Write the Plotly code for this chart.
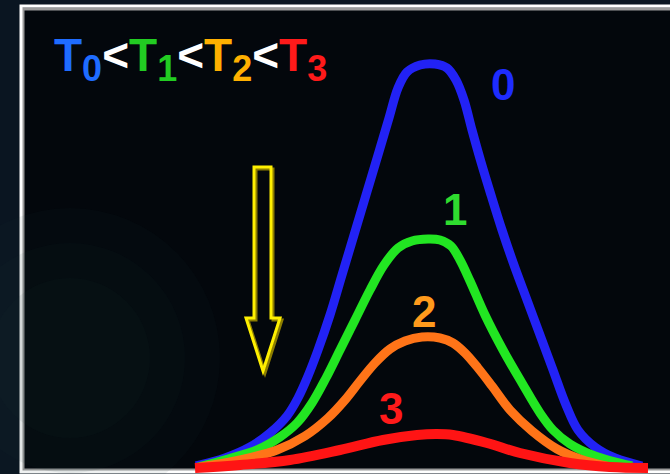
import plotly.graph_objects as go

# peak profiles at four temperatures (x position, height above baseline)
blue_x = [196, 225, 250, 270, 287, 298, 308, 318, 330, 342, 354, 366, 378, 389, 398, 407,
          420, 435, 447, 456, 464, 472, 481, 491, 502, 514, 527, 540, 553, 566, 578, 595,
          615, 642]
blue_y = [2, 10, 21, 35, 52, 70, 92, 118, 153, 193, 233, 273, 313, 350, 380, 396,
          403, 404, 400, 388, 368, 338, 306, 273, 238, 203, 168, 133, 98, 63, 38, 21,
          10, 2]

green_x = [198, 228, 257, 280, 297, 312, 326, 340, 355, 370, 384, 398, 412, 428, 440, 451,
           460, 470, 485, 503, 522, 540, 553, 570, 595, 632]
green_y = [1, 9, 18, 31, 45, 65, 90, 118, 148, 178, 203, 220, 227, 229, 228, 222,
           208, 187, 153, 118, 85, 55, 38, 24, 12, 2]

orange_x = [200, 240, 277, 305, 328, 345, 360, 375, 390, 405, 422, 440, 453, 465, 478, 492,
            510, 532, 557, 580, 610]
orange_y = [1, 8, 18, 32, 50, 68, 87, 105, 119, 127, 131, 130, 125, 115, 100, 82,
            58, 37, 19, 9, 1]

red_x = [195, 240, 290, 340, 383, 417, 437, 453, 487, 520, 570, 610, 648]
red_y = [0, 3, 8, 18, 28, 33, 34, 33, 25, 15, 5, 1, 0]

names = ["0", "1", "2", "3"]
colors = ["#2222f5", "#22e622", "#ff7418", "#ff1414"]
label_colors = ["#1e2cff", "#2fdc2f", "#ff9a1c", "#ff1a1a"]
label_pos = [(503, 384), (455, 259), (424, 157), (391, 60)]

fig = go.Figure()
for xs, ys, c, n in zip([blue_x, green_x, orange_x, red_x],
                        [blue_y, green_y, orange_y, red_y], colors, names):
    fig.add_trace(go.Scatter(x=xs, y=ys, mode="lines", name=n,
                             line=dict(color=c, width=10 if n == "3" else 9,
                                       shape="spline", smoothing=1.0)))

for n, c, (lx, ly) in zip(names, label_colors, label_pos):
    fig.add_annotation(x=lx, y=ly, text=f"<b>{n}</b>", showarrow=False,
                       font=dict(family="Liberation Sans", size=44, color=c))


def sub(d):
    return f'<sub><span style="font-size:36px">{d}</span></sub>'


title = ('<b><span style="color:#1f6cff">T' + sub(0) + '</span>'
         '<span style="color:#ffffff">&lt;</span>'
         '<span style="color:#22cc22">T' + sub(1) + '</span>'
         '<span style="color:#ffffff">&lt;</span>'
         '<span style="color:#ffb000">T' + sub(2) + '</span>'
         '<span style="color:#ffffff">&lt;</span>'
         '<span style="color:#ff1a1a">T' + sub(3) + '</span></b>')
fig.add_annotation(x=52, y=409, text=title, showarrow=False, xanchor="left",
                   yanchor="middle", font=dict(family="Liberation Sans", size=46))

# frame and interior
fig.add_shape(type="rect", xref="paper", yref="paper", x0=23 / 670, x1=1.05,
              y0=1 - 470 / 474, y1=1 - 9 / 474, fillcolor="#03070c",
              line=dict(color="#9a9a9a", width=3), layer="below")
# faint glow at lower left
for r in [150, 115, 80]:
    fig.add_shape(type="circle", xref="x", yref="y", x0=70 - r, x1=70 + r,
                  y0=110 - r, y1=110 + r, fillcolor="#1a3a3a", opacity=0.07,
                  line_width=0, layer="below")
fig.add_shape(type="rect", xref="paper", yref="paper", x0=21 / 670, x1=1.05,
              y0=1 - 472 / 474, y1=1 - 6 / 474,
              line=dict(color="#ffffff", width=3), layer="below")

# hollow arrow pointing down
arrow = "M 254,301 L 271,301 L 271,150 L 280,150 L 263,97 L 246,150 L 254,150 Z"
shadow = "M 256,299 L 273,299 L 273,148 L 282,148 L 265,95 L 248,148 L 256,148 Z"
fig.add_shape(type="path", path=shadow, line=dict(color="#8c7d00", width=3))
fig.add_shape(type="path", path=arrow, line=dict(color="#fff000", width=3))

fig.update_layout(
    width=670, height=474,
    margin=dict(l=0, r=0, t=0, b=0),
    paper_bgcolor="#0a1521",
    plot_bgcolor="#0a1521",
    showlegend=False,
    xaxis=dict(range=[0, 670], visible=False, fixedrange=True),
    yaxis=dict(range=[-6, 468], visible=False, fixedrange=True),
)
fig.write_html("out.html", config={"displayModeBar": False},
               post_script="document.body.style.margin='0';")
